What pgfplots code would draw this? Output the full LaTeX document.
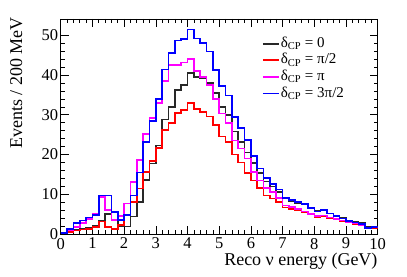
\documentclass[border=0pt]{standalone}
\usepackage{fontspec}
\setmainfont{Liberation Serif}
\usepackage{pgfplots}
\usepackage{pgfplotstable}
\pgfplotsset{compat=1.18}
\definecolor{hblack}{RGB}{40,40,40}
\definecolor{hred}{RGB}{255,0,0}
\definecolor{hmag}{RGB}{255,0,255}
\definecolor{hblue}{RGB}{0,0,255}
\pgfplotstableread{
x    k    r    m    b
0.0  0.2  0.1  0.2  0.2
0.2  0.7  0.5  1.0  1.3
0.4  1.0  0.9  1.8  2.7
0.6  1.2  1.1  2.8  3.4
0.8  1.6  1.3  3.8  4.2
1.0  2.0  1.7  5.0  4.8
1.2  3.2  3.1  9.3  9.7
1.4  5.0  1.7  6.0  9.7
1.6  3.6  1.2  3.5  5.5
1.8  2.0  2.3  4.5  3.5
2.0  1.9  4.8  7.7  4.8
2.2  4.4  8.0  13.1 9.7
2.4  8.0  11.4 18.6 15.5
2.6  13.6 15.6 25.2 23.2
2.8  17.7 18.3 29.2 28.4
3.0  22.3 21.6 33.0 33.9
3.2  28.8 26.1 38.5 41.4
3.4  32.0 28.0 42.6 45.5
3.6  36.3 30.5 42.5 48.7
3.8  37.5 31.2 43.2 49.0
4.0  40.5 33.0 44.0 51.5
4.2  39.5 31.5 41.0 49.2
4.4  39.1 30.7 39.5 48.0
4.6  38.0 29.6 37.5 45.9
4.8  35.5 27.5 34.0 41.3
5.0  32.0 24.5 30.3 37.2
5.2  30.0 23.2 28.0 34.8
5.4  25.8 20.0 23.5 29.4
5.6  23.1 18.0 21.5 26.6
5.8  20.5 15.4 19.0 23.7
6.0  17.8 13.5 15.6 19.7
6.2  15.4 11.5 13.5 16.5
6.4  13.2 9.7  11.5 14.1
6.6  12.0 8.9  10.5 12.6
6.8  10.6 8.0  9.0  11.2
7.0  9.0  6.7  7.2  9.1
7.2  8.3  6.3  6.8  8.6
7.4  7.8  5.9  6.3  8.1
7.6  7.4  5.5  5.7  7.6
7.8  6.7  4.9  5.1  6.5
8.0  5.8  4.3  4.5  5.7
8.2  5.9  4.5  4.7  6.0
8.4  5.2  4.0  4.2  5.2
8.6  4.6  3.7  3.8  4.5
8.8  4.0  3.3  3.4  3.9
9.0  3.4  2.9  3.0  3.2
9.2  3.0  2.5  2.6  2.9
9.4  2.7  2.2  2.3  2.5
9.6  1.7  1.5  1.6  1.5
9.8  1.8  1.5  1.6  1.7
10.0 1.8  1.5  1.6  1.7
}\hist
\begin{document}
\begin{tikzpicture}
\path[use as bounding box] (-60.7pt,-42pt) rectangle (346.3pt,234pt);
\begin{axis}[
  at={(0pt,0pt)}, anchor=south west,
  scale only axis, width=317pt, height=215pt,
  xmin=0, xmax=10, ymin=0, ymax=54.1,
  xtick={0,1,...,10}, ytick={0,10,...,50},
  minor x tick num=4, minor y tick num=4,
  tick align=inside, major tick length=8pt, minor tick length=4pt,
  xtick pos=both, ytick pos=both,
  axis line style={line width=0.8pt}, tick style={line width=0.6pt, black},
  /pgf/number format/assume math mode=true,
  tick label style={font=\fontsize{16.5}{16.5}\selectfont},
  xticklabel style={yshift=-0.5pt},
  yticklabel style={xshift=1pt},
  label style={font=\fontsize{18}{18}\selectfont},
  xlabel={Reco ν energy (GeV)},
  xlabel style={at={(axis description cs:1,-0.148)}, anchor=base east, inner sep=0pt},
  ylabel={Events / 200 MeV},
  ylabel style={at={(axis description cs:-0.14,1.01)}, anchor=east, inner sep=0pt},
  legend style={draw=none, fill=none, at={(axis description cs:0.625,0.93)}, anchor=north west,
    font=\fontsize{15}{15}\selectfont, row sep=1.6pt,
    nodes={inner sep=1pt, text height=10pt, text depth=3pt}},
  legend cell align=left,
  legend image code/.code={\draw[#1, line width=1.8pt] (0pt,0pt) -- (16pt,0pt);},
]
\addplot[color=hblack, const plot, line width=1.6pt] table[x=x, y=k] {\hist};
\addlegendentry{δ\textsubscript{CP} = 0}
\addplot[color=hred, const plot, line width=1.6pt] table[x=x, y=r] {\hist};
\addlegendentry{δ\textsubscript{CP} = π/2}
\addplot[color=hmag, const plot, line width=1.6pt] table[x=x, y=m] {\hist};
\addlegendentry{δ\textsubscript{CP} = π}
\addplot[color=hblue, const plot, line width=1.6pt] table[x=x, y=b] {\hist};
\addlegendentry{δ\textsubscript{CP} = 3π/2}
\end{axis}
\end{tikzpicture}
\end{document}
